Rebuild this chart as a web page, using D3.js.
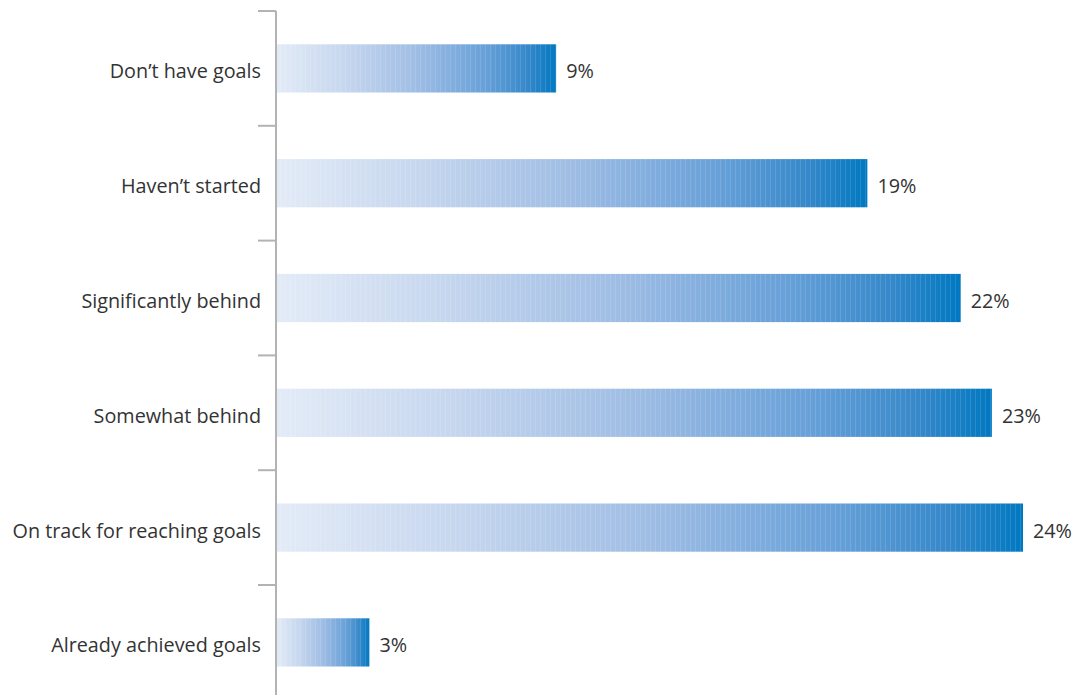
<!DOCTYPE html>
<html>
<head>
<meta charset="utf-8">
<script src="https://cdn.jsdelivr.net/npm/d3@7"></script>
<style>
  html, body { margin: 0; padding: 0; background: #fff; }
  svg { display: block; }
  text { font-family: "Open Sans", "Noto Sans", sans-serif; fill: #333; }
</style>
</head>
<body>
<svg id="chart" width="1081" height="695"></svg>
<script>
// Survey responses: progress toward goals
const categories = [
  "Don\u2019t have goals",
  "Haven\u2019t started",
  "Significantly behind",
  "Somewhat behind",
  "On track for reaching goals",
  "Already achieved goals"
];
const values = [9, 19, 22, 23, 24, 3];
const valueLabels = ["9%", "19%", "22%", "23%", "24%", "3%"];

const W = 1081, H = 695;
const axisX = 276;
const fontSize = 19.8;
const svg = d3.select("#chart");

const x = d3.scaleLinear().domain([0, 24]).range([axisX, 1023]);
const y = d3.scaleBand().domain(categories).range([11, 11 + 6 * 114.8]).paddingInner(0.58).paddingOuter(0.29);

// Horizontal gradient running light to saturated blue across each bar
const defs = svg.append("defs");
const grad = defs.append("linearGradient")
  .attr("id", "barGrad")
  .attr("x1", "0%").attr("x2", "100%").attr("y1", "0%").attr("y2", "0%");
[
  [0, "#e3ebf7"],
  [0.25, "#c5d6ee"],
  [0.5, "#9fbde4"],
  [0.75, "#67a0d8"],
  [0.9, "#3588ca"],
  [1, "#0078c1"]
].forEach(([o, c]) => grad.append("stop").attr("offset", o).attr("stop-color", c));

// Fine vertical banding over the bars
const pat = defs.append("pattern")
  .attr("id", "stripes")
  .attr("patternUnits", "userSpaceOnUse")
  .attr("width", 5).attr("height", 10);
pat.append("rect").attr("x", 0).attr("y", 0).attr("width", 1).attr("height", 10)
  .attr("fill", "#ffffff").attr("opacity", 0.12);

const bars = svg.append("g");
bars.selectAll("rect.bar")
  .data(values)
  .join("rect")
  .attr("class", "bar")
  .attr("x", x(0) + 1)
  .attr("y", (d, i) => y(categories[i]))
  .attr("width", d => x(d) - x(0) - 1)
  .attr("height", y.bandwidth())
  .attr("fill", "url(#barGrad)");

bars.selectAll("rect.band")
  .data(values)
  .join("rect")
  .attr("class", "band")
  .attr("x", x(0) + 1)
  .attr("y", (d, i) => y(categories[i]))
  .attr("width", d => x(d) - x(0) - 1)
  .attr("height", y.bandwidth())
  .attr("fill", "url(#stripes)");

// Value labels at the bar ends
svg.append("g").selectAll("text")
  .data(values)
  .join("text")
  .attr("x", d => x(d) + 10)
  .attr("y", (d, i) => y(categories[i]) + y.bandwidth() / 2 + 3)
  .attr("dy", "0.35em")
  .attr("font-size", fontSize)
  .text((d, i) => valueLabels[i]);

// Category axis with ticks between categories
const axisG = svg.append("g");
axisG.append("line")
  .attr("x1", axisX).attr("x2", axisX)
  .attr("y1", 11).attr("y2", H)
  .attr("stroke", "#b3b3b3").attr("stroke-width", 2);

const step = y.step();
const boundaries = categories.map((c, i) => y.range()[0] + i * step);
axisG.selectAll("line.tick")
  .data(boundaries)
  .join("line")
  .attr("class", "tick")
  .attr("x1", 258).attr("x2", axisX)
  .attr("y1", d => d).attr("y2", d => d)
  .attr("stroke", "#b3b3b3").attr("stroke-width", 2);

axisG.selectAll("text")
  .data(categories)
  .join("text")
  .attr("x", 261)
  .attr("y", d => y(d) + y.bandwidth() / 2 + 3)
  .attr("dy", "0.35em")
  .attr("text-anchor", "end")
  .attr("font-size", fontSize)
  .text(d => d);
</script>
</body>
</html>
